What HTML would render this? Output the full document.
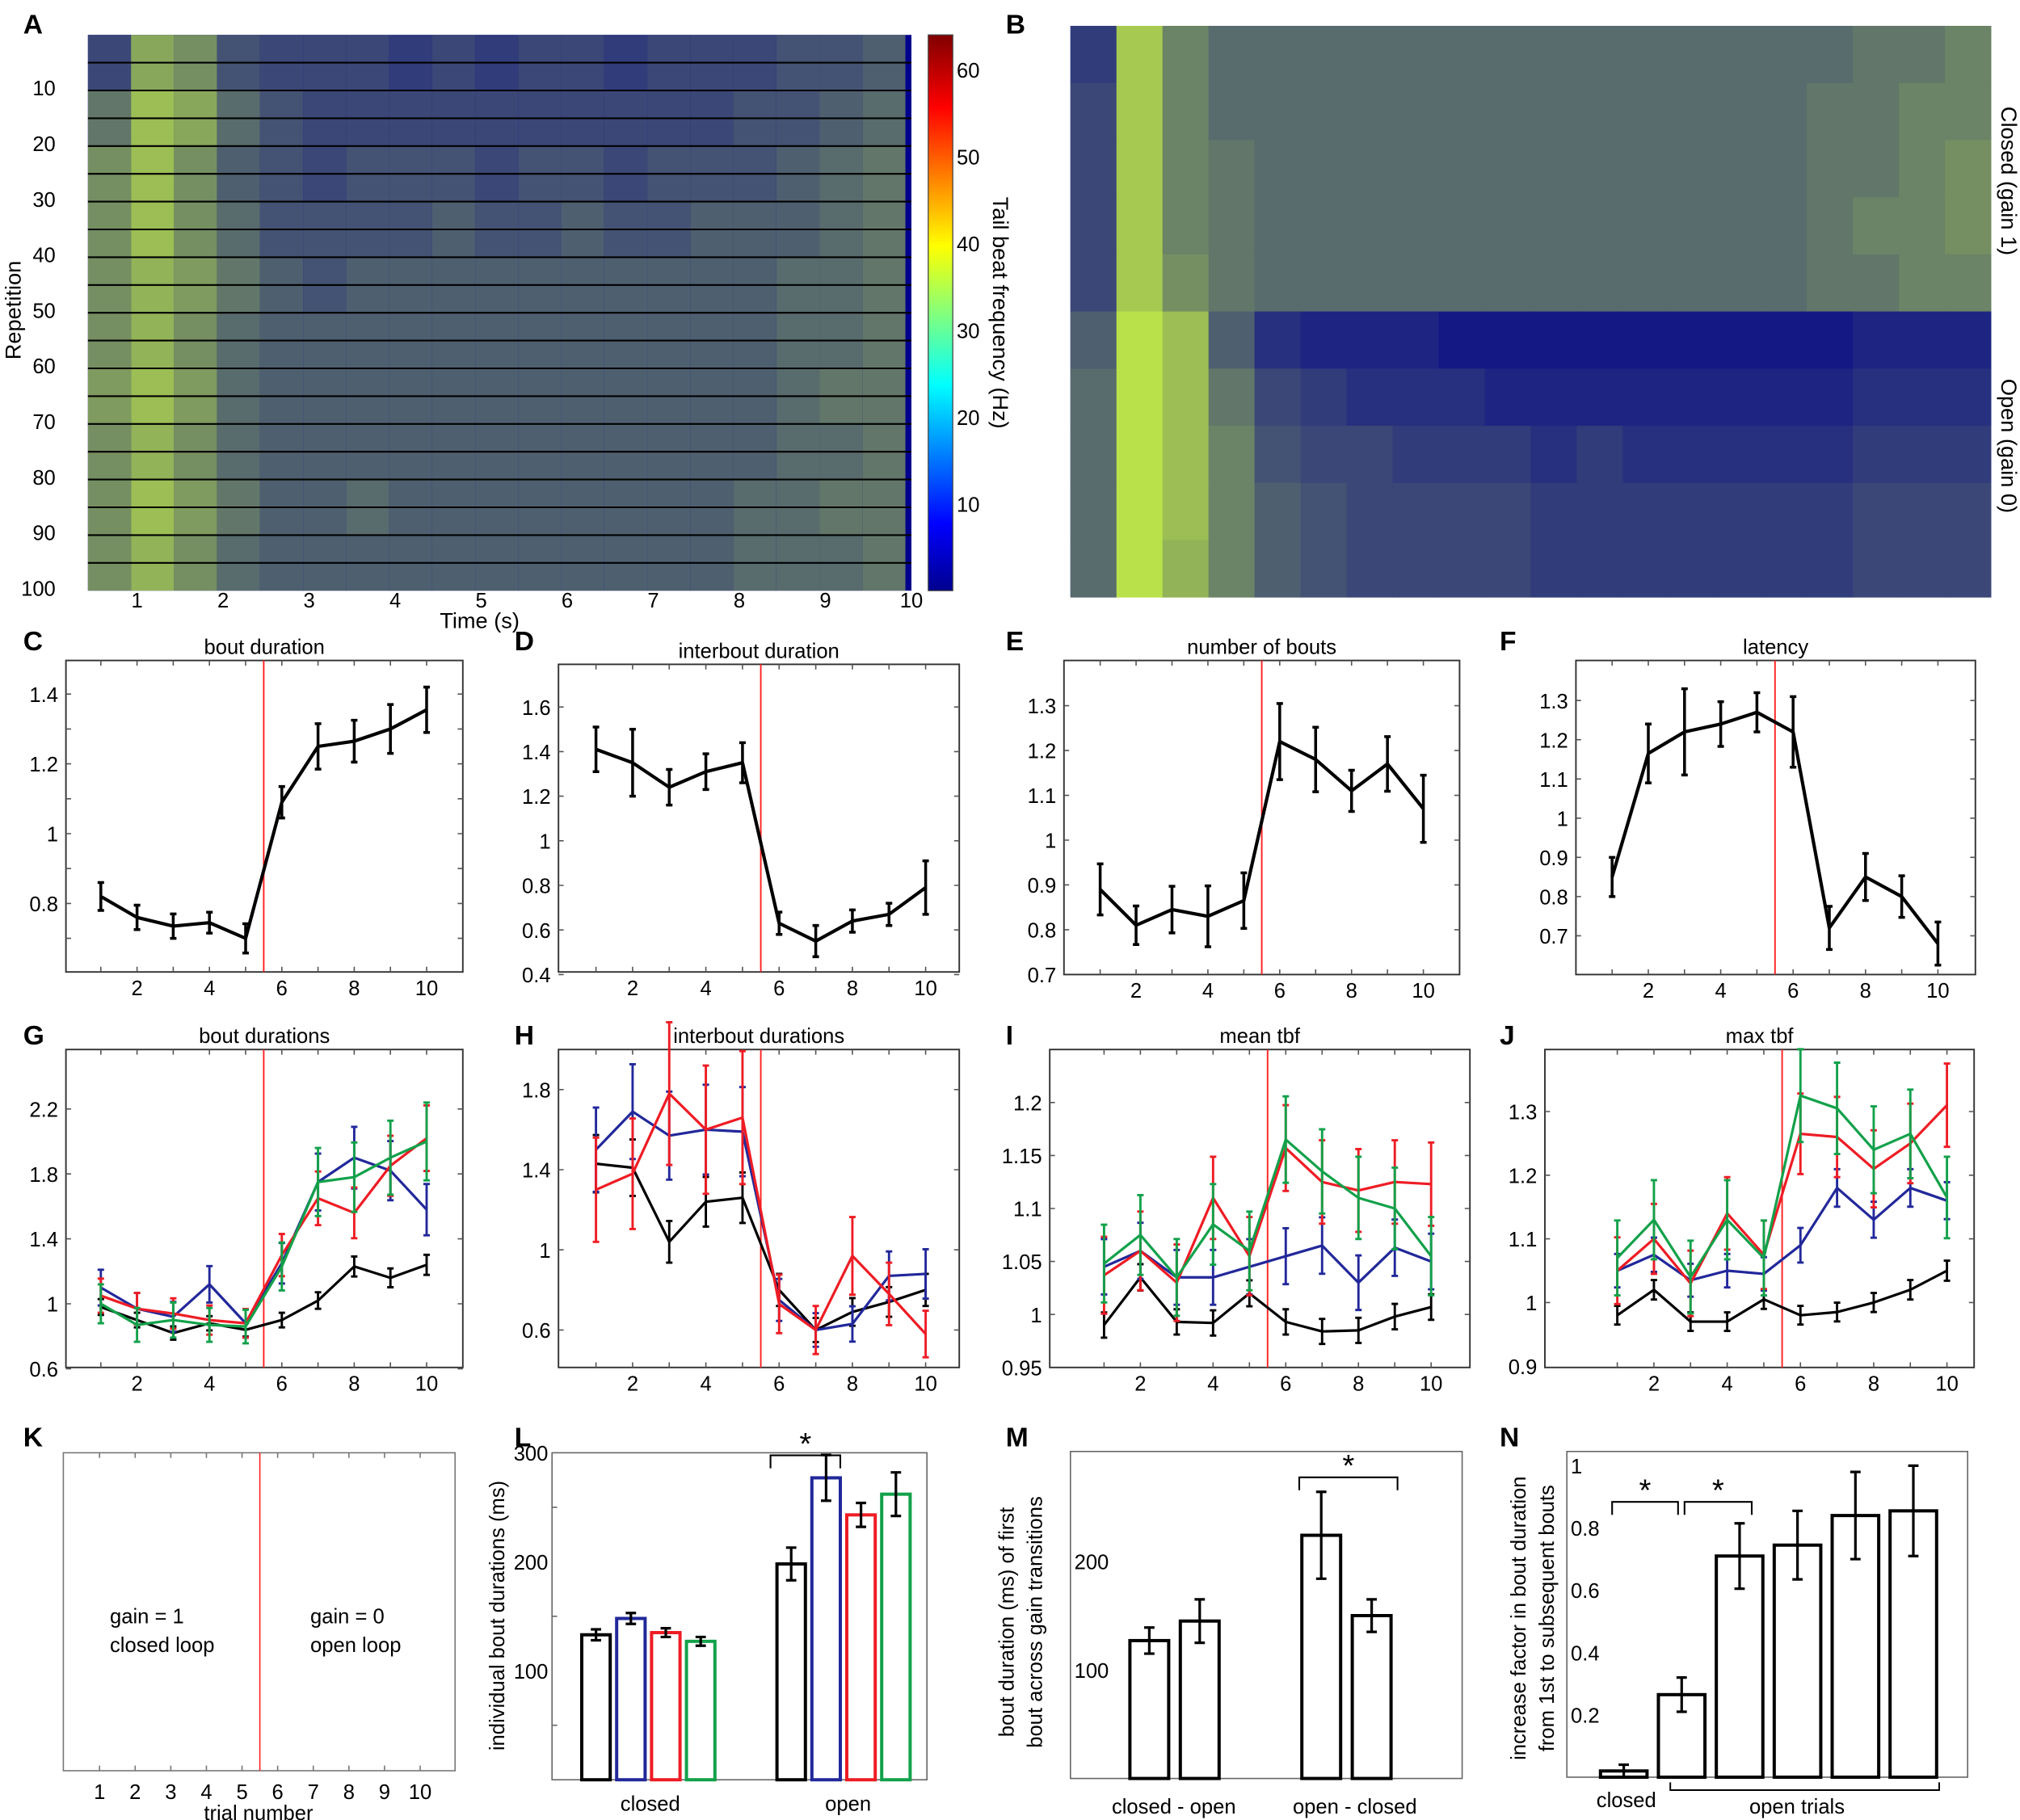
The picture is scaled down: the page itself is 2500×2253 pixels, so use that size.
<!DOCTYPE html>
<html><head><meta charset="utf-8"><style>
html,body{margin:0;padding:0;background:#fff;}
svg{display:block;font-family:"Liberation Sans",sans-serif;}
</style></head><body>
<svg id="fig" xmlns="http://www.w3.org/2000/svg" width="2500" height="2253" viewBox="0 0 1562.5 1408.125">
<defs>
<linearGradient id="jet" x1="0" y1="1" x2="0" y2="0">
<stop offset="0" stop-color="#00008f"/><stop offset="0.12" stop-color="#0000ff"/><stop offset="0.37" stop-color="#00ffff"/><stop offset="0.62" stop-color="#ffff00"/><stop offset="0.87" stop-color="#ff0000"/><stop offset="1" stop-color="#800000"/>
</linearGradient>
</defs>
<g id="root"></g>
</svg>
<script>
// ---------- data ----------
const trials = [1,2,3,4,5,6,7,8,9,10];
const cMean = [0.82,0.76,0.735,0.745,0.70,1.09,1.25,1.265,1.30,1.355];
const cErr = [0.04,0.035,0.035,0.03,0.042,0.045,0.065,0.06,0.07,0.065];
const dMean = [1.41,1.35,1.24,1.31,1.35,0.63,0.55,0.64,0.67,0.79];
const dErr = [0.10,0.15,0.08,0.08,0.09,0.05,0.07,0.05,0.05,0.12];
const eMean = [0.89,0.81,0.845,0.83,0.865,1.22,1.18,1.11,1.17,1.07];
const eErr = [0.057,0.043,0.052,0.068,0.062,0.085,0.072,0.046,0.061,0.075];
const fMean = [0.85,1.165,1.22,1.24,1.27,1.22,0.72,0.85,0.80,0.68];
const fErr = [0.05,0.075,0.11,0.057,0.05,0.09,0.055,0.06,0.053,0.055];
const gBlack = [0.98,0.90,0.82,0.88,0.84,0.90,1.02,1.23,1.16,1.24];
const gBlue = [1.10,0.97,0.92,1.12,0.88,1.25,1.75,1.90,1.82,1.58];
const gRed = [1.05,0.97,0.94,0.90,0.88,1.30,1.65,1.56,1.85,2.02];
const gGreen = [1.00,0.87,0.90,0.87,0.86,1.23,1.75,1.78,1.90,2.00];
const hBlack = [1.43,1.41,1.04,1.24,1.26,0.80,0.60,0.69,0.74,0.80];
const hBlue = [1.50,1.69,1.57,1.60,1.59,0.75,0.60,0.63,0.87,0.88];
const hRed = [1.30,1.38,1.78,1.60,1.66,0.73,0.60,0.97,0.78,0.58];
const iBlack = [0.99,1.035,0.993,0.992,1.02,0.993,0.984,0.985,0.998,1.007];
const iBlue = [1.045,1.06,1.035,1.035,1.045,1.055,1.065,1.03,1.063,1.05];
const iRed = [1.037,1.06,1.03,1.11,1.055,1.157,1.125,1.117,1.125,1.123];
const iGreen = [1.048,1.075,1.035,1.085,1.06,1.165,1.135,1.11,1.10,1.055];
const jBlack = [0.98,1.02,0.97,0.97,1.005,0.98,0.985,1.0,1.02,1.05];
const jBlue = [1.05,1.075,1.035,1.05,1.045,1.09,1.18,1.13,1.18,1.16];
const jRed = [1.05,1.10,1.03,1.14,1.075,1.265,1.26,1.21,1.25,1.31];
const jGreen = [1.07,1.13,1.04,1.13,1.07,1.325,1.305,1.24,1.265,1.165];
const lClosed = [133,148,135,127];
const lClosedErr = [5,5,4,4];
const lOpen = [198,277,243,262];
const lOpenErr = [15,21,11,20];
const mVals = [127,145,224,150];
const mErr = [12,20,40,15];
const nVals = [0.02,0.265,0.71,0.745,0.84,0.855];
const nErr = [0.02,0.055,0.105,0.11,0.14,0.145];
const aActivity = [
[0.30,0.70,0.60,0.35,0.30,0.30,0.30,0.25,0.30,0.25,0.30,0.30,0.25,0.30,0.30,0.30,0.35,0.35,0.40],
[0.50,0.80,0.70,0.45,0.35,0.30,0.30,0.30,0.30,0.30,0.30,0.30,0.30,0.30,0.30,0.35,0.35,0.40,0.45],
[0.60,0.80,0.60,0.40,0.35,0.30,0.35,0.35,0.35,0.30,0.35,0.35,0.30,0.35,0.35,0.35,0.40,0.45,0.50],
[0.60,0.80,0.60,0.45,0.35,0.35,0.35,0.35,0.40,0.35,0.35,0.40,0.35,0.35,0.40,0.40,0.40,0.45,0.50],
[0.60,0.75,0.65,0.50,0.40,0.35,0.40,0.40,0.40,0.40,0.40,0.40,0.40,0.40,0.40,0.40,0.45,0.45,0.50],
[0.60,0.75,0.60,0.45,0.40,0.40,0.40,0.40,0.40,0.40,0.40,0.40,0.40,0.40,0.40,0.40,0.45,0.45,0.50],
[0.65,0.80,0.65,0.45,0.40,0.40,0.40,0.40,0.40,0.40,0.40,0.40,0.40,0.40,0.40,0.40,0.45,0.50,0.50],
[0.60,0.75,0.60,0.45,0.40,0.40,0.40,0.40,0.40,0.40,0.40,0.40,0.40,0.40,0.40,0.40,0.45,0.45,0.50],
[0.60,0.80,0.65,0.50,0.40,0.40,0.45,0.40,0.40,0.40,0.40,0.40,0.40,0.40,0.40,0.45,0.45,0.50,0.50],
[0.60,0.75,0.60,0.45,0.40,0.40,0.40,0.40,0.40,0.40,0.40,0.40,0.40,0.40,0.40,0.45,0.45,0.45,0.50]];
const bActivity = [
[0.25,0.85,0.55,0.45,0.45,0.45,0.45,0.45,0.45,0.45,0.45,0.45,0.45,0.45,0.45,0.45,0.45,0.50,0.50,0.55],
[0.30,0.85,0.55,0.45,0.45,0.45,0.45,0.45,0.45,0.45,0.45,0.45,0.45,0.45,0.45,0.45,0.50,0.50,0.55,0.55],
[0.30,0.85,0.55,0.50,0.45,0.45,0.45,0.45,0.45,0.45,0.45,0.45,0.45,0.45,0.45,0.45,0.50,0.50,0.55,0.60],
[0.30,0.85,0.55,0.50,0.45,0.45,0.45,0.45,0.45,0.45,0.45,0.45,0.45,0.45,0.45,0.45,0.50,0.55,0.55,0.60],
[0.30,0.85,0.60,0.50,0.45,0.45,0.45,0.45,0.45,0.45,0.45,0.45,0.45,0.45,0.45,0.45,0.50,0.50,0.55,0.55],
[0.40,0.95,0.80,0.40,0.20,0.15,0.15,0.15,0.10,0.10,0.10,0.10,0.10,0.10,0.10,0.10,0.10,0.15,0.15,0.15],
[0.45,0.95,0.80,0.50,0.30,0.25,0.20,0.20,0.20,0.15,0.15,0.15,0.15,0.15,0.15,0.15,0.15,0.20,0.20,0.20],
[0.45,0.95,0.80,0.55,0.35,0.30,0.30,0.25,0.25,0.25,0.20,0.25,0.20,0.20,0.20,0.20,0.20,0.25,0.25,0.25],
[0.45,0.95,0.80,0.55,0.40,0.35,0.30,0.30,0.30,0.30,0.25,0.25,0.25,0.25,0.25,0.25,0.25,0.30,0.30,0.30],
[0.45,0.95,0.75,0.55,0.40,0.35,0.30,0.30,0.30,0.30,0.25,0.25,0.25,0.25,0.25,0.25,0.25,0.30,0.30,0.30]];
const aRepTicks = [10,20,30,40,50,60,70,80,90,100];
const aTimeTicks = [1,2,3,4,5,6,7,8,9,10];
const cbTicks = [10,20,30,40,50,60];

// ---------- helpers ----------
const NS = "http://www.w3.org/2000/svg";
const root = document.getElementById('root');
function mk(tag, parent){ const e = document.createElementNS(NS, tag); (parent||root).appendChild(e); return e; }
function attrs(e, o){ for (const k in o) e.setAttribute(k, o[k]); return e; }
function txt(parent, x, y, s, size, anchor, name, extra){
  const t = mk('text', parent);
  attrs(t, {x:x, y:y, 'font-size':size, 'text-anchor':anchor||'middle', fill:'#000'});
  if (extra) attrs(t, extra);
  t.textContent = s;
  
  
  return t;
}
function lin(v1,p1,v2,p2){ return v => p1 + (v - v1) * (p2 - p1) / (v2 - v1); }
function mix(f){ const a=[0,0,140], b=[195,238,70]; return 'rgb('+a.map((c,i)=>Math.round(c+(b[i]-c)*f)).join(',')+')'; }

const letters = [['A',18,26],['B',778,26],['C',18,503],['D',398,503],['E',778,503],['F',1160,503],['G',18,808],['H',398,808],['I',778,808],['J',1160,808],['K',18,1119],['L',398,1119],['M',778,1119],['N',1160,1119]];
letters.forEach(l => { txt(root, l[1], l[2], l[0], 21, 'start', 'panel-label-'+l[0].toLowerCase(), {'font-weight':'bold'}); });

// ---------- heatmap A ----------
(function(){
  const g = mk('g');  
  const L=68, R=705, T=27, B=457;
  const xT = lin(1,106,10,705);
  const yR = lin(0.5,T,100.5,B);
  const bg = mk('rect', g); attrs(bg,{x:L,y:T,width:R-L,height:B-T,fill:'#00008c'});
   
  aActivity.forEach((row, ri) => {
    row.forEach((v, ci) => {
      const t0 = 0.43 + ci*0.5, t1 = Math.min(t0+0.5, 10);
      const r = mk('rect', g);
      attrs(r,{x:xT(t0), y:yR(ri*10+0.5), width:xT(t1)-xT(t0), height:yR(10.5)-yR(0.5), fill:mix(v)});
       
    });
  });
  for (let k=5; k<100; k+=5){
    const ln = mk('line', g); attrs(ln,{x1:L,x2:R,y1:yR(k+0.5),y2:yR(k+0.5),stroke:'#000','stroke-width':1.3});
     
  }
  aRepTicks.forEach(v => txt(g, 43, yR(v)+6, String(v), 16, 'end', 'y-tick-label'));
  aTimeTicks.forEach(v => txt(g, xT(v), 470, String(v), 16, 'middle', 'x-tick-label'));
  txt(g, 371, 486, 'Time (s)', 17, 'middle', 'x-axis-title');
  txt(g, 16, 240, 'Repetition', 17, 'middle', 'y-axis-title', {transform:'rotate(-90 16 240)'});
  const cb = mk('rect', g); attrs(cb,{x:718,y:27,width:19,height:430,fill:'url(#jet)',stroke:'#444','stroke-width':0.8});
   
  const yC = lin(0,457,64,27);
  cbTicks.forEach(v => txt(g, 740, yC(v)+6, String(v), 16, 'start', 'colorbar-tick-label'));
  txt(g, 768, 242, 'Tail beat frequency (Hz)', 17, 'middle', 'colorbar-title', {transform:'rotate(90 768 242)'});
})();

// ---------- heatmap B ----------
(function(){
  const g = mk('g');  
  const L=828, R=1540, T=20, B=462;
  const bg = mk('rect', g); attrs(bg,{x:L,y:T,width:R-L,height:B-T,fill:'#00008c'});
   
  const cw = (R-L)/bActivity[0].length, rh = (B-T)/bActivity.length;
  bActivity.forEach((row, ri) => {
    row.forEach((v, ci) => {
      const r = mk('rect', g);
      attrs(r,{x:L+ci*cw, y:T+ri*rh, width:cw+0.3, height:rh+0.3, fill:mix(v)});
       
    });
  });
  txt(g, 1548, 140, 'Closed (gain 1)', 17, 'middle', 'closed-gain-label', {transform:'rotate(90 1548 140)'});
  txt(g, 1548, 345, 'Open (gain 0)', 17, 'middle', 'open-gain-label', {transform:'rotate(90 1548 345)'});
})();

// ---------- line panels ----------
function linePanel(cfg, series){
  const g = mk('g');  
  const [L,T,R,B] = cfg.box;
  const xS = lin(1, cfg.x1, 10, cfg.x10);
  const yS = lin(cfg.v1, cfg.p1, cfg.v2, cfg.p2);
  const box = mk('rect', g); attrs(box,{x:L,y:T,width:R-L,height:B-T,fill:'none',stroke:'#333','stroke-width':1.2});
   
  [1,2,3,4,5,6,7,8,9,10].forEach(v => {
    const tk = mk('path', g); attrs(tk,{d:'M'+xS(v)+' '+B+'v-4M'+xS(v)+' '+T+'v4',stroke:'#555','stroke-width':1});
     
  });
  cfg.minor.forEach(v => {
    const tk = mk('path', g); attrs(tk,{d:'M'+L+' '+yS(v)+'h4M'+R+' '+yS(v)+'h-4',stroke:'#555','stroke-width':1});
     
  });
  cfg.yticks.forEach((v,i) => txt(g, L-6, yS(v)+6, cfg.ylabels[i], 16, 'end', 'y-tick-label'));
  [2,4,6,8,10].forEach(v => txt(g, xS(v), B+18, String(v), 16, 'middle', 'x-tick-label'));
  txt(g, (L+R)/2, T-5, cfg.title, 16, 'middle', 'panel-title');
  const red = mk('line', g); attrs(red,{x1:xS(5.5),x2:xS(5.5),y1:T,y2:B,stroke:'#f22','stroke-width':1.2});
   
  series.forEach(s => {
    const sg = mk('g', g);  
    const pl = mk('polyline', sg);
    attrs(pl,{points:trials.map((t,i)=>xS(t)+','+yS(s.y[i])).join(' '),fill:'none',stroke:s.color,'stroke-width':s.w||2.6,'stroke-linejoin':'round'});
     
    s.y.forEach((v,i) => {
      const e = s.err ? s.err[i] : s.errFrac*v;
      const x = xS(trials[i]), y1 = yS(v-e), y2 = yS(v+e);
      const eb = mk('path', sg);
      attrs(eb,{d:'M'+x+' '+y1+'V'+y2+'M'+(x-2.5)+' '+y1+'h5M'+(x-2.5)+' '+y2+'h5',stroke:s.color,'stroke-width':s.w?1.8:2.2,fill:'none'});
       
    });
  });
}
linePanel({name:'panel-c-bout-duration',box:[51,511,358,752],x1:78,x10:330,v1:1.4,p1:537,v2:0.8,p2:699,minor:[0.7,0.8,0.9,1,1.1,1.2,1.3,1.4],yticks:[0.8,1,1.2,1.4],ylabels:['0.8','1','1.2','1.4'],title:'bout duration'},
  [{name:'mean-series',y:cMean,err:cErr,color:'#000'}]);
linePanel({name:'panel-d-interbout-duration',box:[432,514,742,752],x1:461,x10:716,v1:1.6,p1:547,v2:0.4,p2:754,minor:[0.4,0.6,0.8,1,1.2,1.4,1.6],yticks:[0.4,0.6,0.8,1,1.2,1.4,1.6],ylabels:['0.4','0.6','0.8','1','1.2','1.4','1.6'],title:'interbout duration'},
  [{name:'mean-series',y:dMean,err:dErr,color:'#000'}]);
linePanel({name:'panel-e-number-of-bouts',box:[823,511,1129,754],x1:851,x10:1101,v1:1.3,p1:546,v2:0.7,p2:754,minor:[0.8,0.9,1,1.1,1.2,1.3],yticks:[0.7,0.8,0.9,1,1.1,1.2,1.3],ylabels:['0.7','0.8','0.9','1','1.1','1.2','1.3'],title:'number of bouts'},
  [{name:'mean-series',y:eMean,err:eErr,color:'#000'}]);
linePanel({name:'panel-f-latency',box:[1219,511,1528,754],x1:1247,x10:1499,v1:1.3,p1:542,v2:0.7,p2:724,minor:[0.7,0.8,0.9,1,1.1,1.2,1.3],yticks:[0.7,0.8,0.9,1,1.1,1.2,1.3],ylabels:['0.7','0.8','0.9','1','1.1','1.2','1.3'],title:'latency'},
  [{name:'mean-series',y:fMean,err:fErr,color:'#000'}]);
const BLK='#000', BLU='#22289a', RED='#ee1c24', GRN='#12a14a';
linePanel({name:'panel-g-bout-durations',box:[51,812,358,1058],x1:78,x10:330,v1:2.2,p1:858,v2:0.6,p2:1059,minor:[0.6,1,1.4,1.8,2.2],yticks:[0.6,1,1.4,1.8,2.2],ylabels:['0.6','1','1.4','1.8','2.2'],title:'bout durations'},
  [{name:'black-series',y:gBlack,errFrac:0.05,color:BLK,w:2},{name:'blue-series',y:gBlue,errFrac:0.1,color:BLU,w:2},{name:'red-series',y:gRed,errFrac:0.1,color:RED,w:2},{name:'green-series',y:gGreen,errFrac:0.12,color:GRN,w:2}]);
linePanel({name:'panel-h-interbout-durations',box:[432,812,742,1058],x1:461,x10:716,v1:1.8,p1:843,v2:0.6,p2:1029,minor:[0.6,1,1.4,1.8],yticks:[0.6,1,1.4,1.8],ylabels:['0.6','1','1.4','1.8'],title:'interbout durations'},
  [{name:'black-series',y:hBlack,errFrac:0.1,color:BLK,w:2},{name:'blue-series',y:hBlue,errFrac:0.14,color:BLU,w:2},{name:'red-series',y:hRed,errFrac:0.2,color:RED,w:2}]);
linePanel({name:'panel-i-mean-tbf',box:[812,812,1137,1058],x1:854,x10:1107,v1:1.2,p1:853,v2:0.95,p2:1058,minor:[1,1.05,1.1,1.15,1.2],yticks:[0.95,1,1.05,1.1,1.15,1.2],ylabels:['0.95','1','1.05','1.1','1.15','1.2'],title:'mean  tbf'},
  [{name:'black-series',y:iBlack,errFrac:0.012,color:BLK,w:2},{name:'blue-series',y:iBlue,errFrac:0.025,color:BLU,w:2},{name:'red-series',y:iRed,errFrac:0.035,color:RED,w:2},{name:'green-series',y:iGreen,errFrac:0.035,color:GRN,w:2}]);
linePanel({name:'panel-j-max-tbf',box:[1195,812,1527,1058],x1:1251,x10:1506,v1:1.3,p1:860,v2:0.9,p2:1057,minor:[1,1.1,1.2,1.3],yticks:[0.9,1,1.1,1.2,1.3],ylabels:['0.9','1','1.1','1.2','1.3'],title:'max  tbf'},
  [{name:'black-series',y:jBlack,errFrac:0.015,color:BLK,w:2},{name:'blue-series',y:jBlue,errFrac:0.025,color:BLU,w:2},{name:'red-series',y:jRed,errFrac:0.05,color:RED,w:2},{name:'green-series',y:jGreen,errFrac:0.055,color:GRN,w:2}]);

// ---------- panel K ----------
(function(){
  const g = mk('g');  
  const L=49,T=1124,R=352,B=1370;
  const xS = lin(1,77,10,325);
  const box = mk('rect', g); attrs(box,{x:L,y:T,width:R-L,height:B-T,fill:'none',stroke:'#777','stroke-width':1});
   
  trials.forEach(v => {
    const tk = mk('path', g); attrs(tk,{d:'M'+xS(v)+' '+B+'v-4M'+xS(v)+' '+T+'v4',stroke:'#777'});
     
    txt(g, xS(v), B+22, String(v), 16, 'middle', 'x-tick-label');
  });
  const red = mk('line', g); attrs(red,{x1:xS(5.5),x2:xS(5.5),y1:T,y2:B,stroke:'#f22','stroke-width':1});
   
  txt(g, 200, 1408, 'trial number', 16, 'middle', 'x-axis-title');
  txt(g, 85, 1256, 'gain = 1', 16, 'start', 'closed-gain-text');
  txt(g, 85, 1278, 'closed loop', 16, 'start', 'closed-loop-text');
  txt(g, 240, 1256, 'gain = 0', 16, 'start', 'open-gain-text');
  txt(g, 240, 1278, 'open loop', 16, 'start', 'open-loop-text');
})();

function bar(g, x, w, vTop, vErr, yS, color, sw){
  const r = mk('rect', g);
  attrs(r,{x:x, y:yS(vTop), width:w, height:yS(0)-yS(vTop), fill:'#fff', stroke:color, 'stroke-width':sw});
   
  const cx = x + w/2, y1 = yS(vTop-vErr), y2 = yS(vTop+vErr);
  const eb = mk('path', g);
  attrs(eb,{d:'M'+cx+' '+y1+'V'+y2+'M'+(cx-4)+' '+y1+'h8M'+(cx-4)+' '+y2+'h8',stroke:'#000','stroke-width':2,fill:'none'});
   
}
function frame(g,L,T,R,B){
  const box = mk('rect', g); attrs(box,{x:L,y:T,width:R-L,height:B-T,fill:'none',stroke:'#666','stroke-width':1});
   
}
function bracket(g, x1, x2, y, name){
  const p = mk('path', g); attrs(p,{d:'M'+x1+' '+(y+10)+'V'+y+'H'+x2+'V'+(y+10),stroke:'#000','stroke-width':1.3,fill:'none'});
   
  txt(g, (x1+x2)/2, y-1, '*', 24, 'middle', 'significance-star');
}

// ---------- panel L ----------
(function(){
  const g = mk('g');  
  const L=427,T=1124,R=717,B=1377;
  const yS = lin(0,1377,300,1124);
  frame(g,L,T,R,B);
  [100,200,300].forEach(v => txt(g, L-3, yS(v)+6, String(v), 16, 'end', 'y-tick-label'));
  [50,150,250].forEach(v => { const t=mk('path',g); attrs(t,{d:'M'+L+' '+yS(v)+'h4',stroke:'#666'});   });
  const cols = [BLK,BLU,RED,GRN];
  lClosed.forEach((v,i) => bar(g, 450+i*27, 22, v, lClosedErr[i], yS, cols[i], 2.5));
  lOpen.forEach((v,i) => bar(g, 601+i*27, 22, v, lOpenErr[i], yS, cols[i], 2.5));
  bracket(g, 596, 650, 1126, 'significance-bracket');
  txt(g, 503, 1401, 'closed', 16, 'middle', 'x-category-label');
  txt(g, 656, 1401, 'open', 16, 'middle', 'x-category-label');
  txt(g, 390, 1250, 'individual bout durations (ms)', 16, 'middle', 'y-axis-title', {transform:'rotate(-90 390 1250)'});
})();

// ---------- panel M ----------
(function(){
  const g = mk('g');  
  const L=828,T=1123,R=1131,B=1376;
  const yS = lin(0,1376,200,1208);
  frame(g,L,T,R,B);
  [100,200].forEach(v => txt(g, L+3, yS(v)+6, String(v), 16, 'start', 'y-tick-label'));
  const xs = [874,913,1007,1046];
  mVals.forEach((v,i) => bar(g, xs[i], 30, v, mErr[i], yS, '#000', 2.5));
  bracket(g, 1005, 1081, 1143, 'significance-bracket');
  txt(g, 908, 1403, 'closed - open', 16, 'middle', 'x-category-label');
  txt(g, 1048, 1403, 'open - closed', 16, 'middle', 'x-category-label');
  txt(g, 784, 1255, 'bout duration (ms) of first', 16, 'middle', 'y-axis-title', {transform:'rotate(-90 784 1255)'});
  txt(g, 806, 1255, 'bout across gain transitions', 16, 'middle', 'y-axis-title-line2', {transform:'rotate(-90 806 1255)'});
})();

// ---------- panel N ----------
(function(){
  const g = mk('g');  
  const L=1212,T=1123,R=1522,B=1375;
  const yS = lin(0,1375,1,1134);
  frame(g,L,T,R,B);
  [0.2,0.4,0.6,0.8,1].forEach(v => txt(g, L+3, yS(v)+6, String(v), 16, 'start', 'y-tick-label'));
  nVals.forEach((v,i) => bar(g, 1238+i*44.8, 36, v, nErr[i], yS, '#000', 2.5));
  bracket(g, 1247, 1298, 1162, 'significance-bracket');
  bracket(g, 1303, 1355, 1162, 'significance-bracket');
  const ob = mk('path', g); attrs(ob,{d:'M1292 1379v6H1500v-6',stroke:'#000','stroke-width':1.2,fill:'none'});
   
  txt(g, 1258, 1398, 'closed', 16, 'middle', 'x-category-label');
  txt(g, 1390, 1403, 'open trials', 16, 'middle', 'x-category-label');
  txt(g, 1180, 1252, 'increase factor in bout duration', 16, 'middle', 'y-axis-title', {transform:'rotate(-90 1180 1252)'});
  txt(g, 1202, 1252, 'from 1st to subsequent bouts', 16, 'middle', 'y-axis-title-line2', {transform:'rotate(-90 1202 1252)'});
})();
</script>
</body></html>
